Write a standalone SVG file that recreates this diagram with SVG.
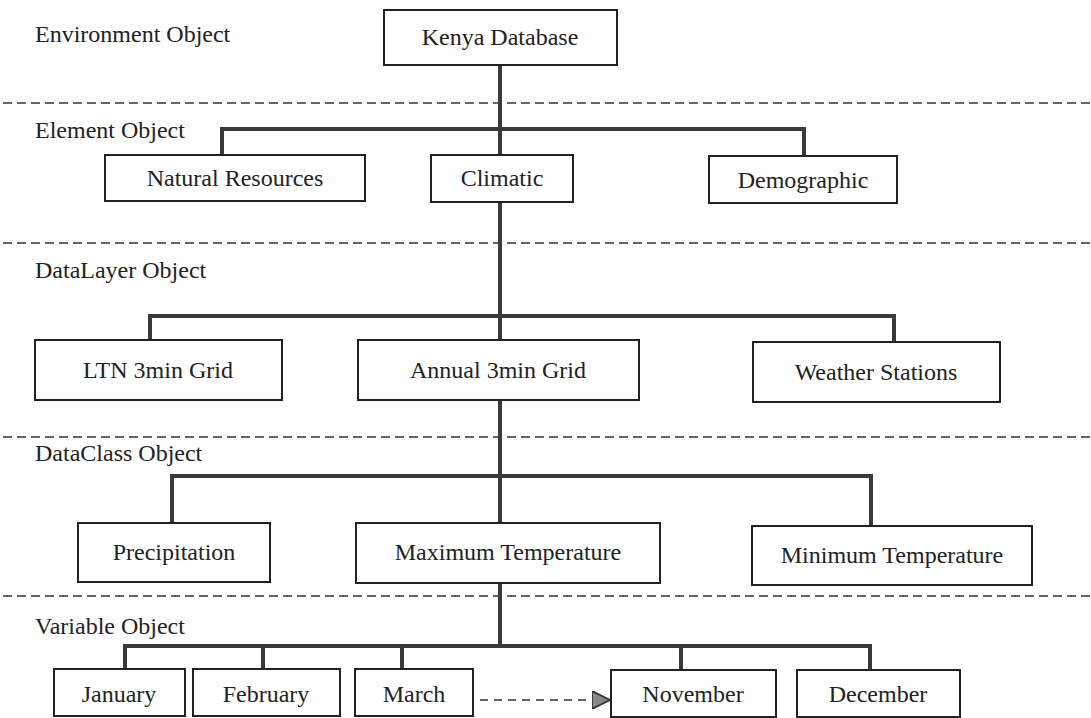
<svg xmlns="http://www.w3.org/2000/svg" width="1091" height="718" viewBox="0 0 1091 718">
<defs>
<style>
text{font-family:"Liberation Serif","Times New Roman",serif;font-size:24px;fill:#222}
.lbl{text-anchor:start}
.box rect{fill:#fff;stroke:#222;stroke-width:2}
.box text{text-anchor:middle}
.sep{stroke:#333;stroke-width:1.6;stroke-dasharray:9 5;fill:none}
.conn{stroke:#3a3a3a;stroke-width:4;fill:none;stroke-linejoin:miter}
</style>
<marker id="arr" viewBox="0 0 10 10" refX="10" refY="5" markerWidth="18" markerHeight="18" markerUnits="userSpaceOnUse" orient="auto">
<path d="M0,0 L10,5 L0,10 Z" fill="#888" stroke="#333" stroke-width="1"/>
</marker>
</defs>
<rect width="1091" height="718" fill="#fff"/>

<g id="layers">
<line class="sep" x1="3" y1="103" x2="1091" y2="103"/>
<line class="sep" x1="3" y1="243" x2="1091" y2="243"/>
<line class="sep" x1="3" y1="437" x2="1091" y2="437"/>
<line class="sep" x1="3" y1="596" x2="1091" y2="596"/>
<text class="lbl" x="35" y="42">Environment Object</text>
<text class="lbl" x="35" y="138">Element Object</text>
<text class="lbl" x="35" y="278">DataLayer Object</text>
<text class="lbl" x="35" y="461">DataClass Object</text>
<text class="lbl" x="35" y="634">Variable Object</text>
</g>

<g id="connectors">
<path class="conn" d="M500,65 V155"/>
<path class="conn" d="M222,155 V129 H804 V155"/>
<path class="conn" d="M500,202 V340"/>
<path class="conn" d="M150,340 V316 H894 V342"/>
<path class="conn" d="M500,400 V523"/>
<path class="conn" d="M172,523 V476 H871 V526"/>
<path class="conn" d="M500,583 V646"/>
<path class="conn" d="M125,669 V646 H870 V669"/>
<path class="conn" d="M263,646 V669"/>
<path class="conn" d="M402,646 V669"/>
<path class="conn" d="M681,646 V669"/>
<line x1="480" y1="700" x2="610" y2="700" stroke="#333" stroke-width="1.6" stroke-dasharray="8 6" marker-end="url(#arr)"/>
</g>

<g id="kenya" class="box"><rect x="384" y="10" width="233" height="55"/><text x="500" y="45">Kenya Database</text></g>
<g id="natural" class="box"><rect x="105" y="155" width="260" height="46"/><text x="235" y="186">Natural Resources</text></g>
<g id="climatic" class="box"><rect x="431" y="155" width="142" height="47"/><text x="502" y="186">Climatic</text></g>
<g id="demographic" class="box"><rect x="709" y="156" width="188" height="47"/><text x="803" y="188">Demographic</text></g>
<g id="ltn" class="box"><rect x="35" y="340" width="247" height="60"/><text x="158" y="378">LTN 3min Grid</text></g>
<g id="annual" class="box"><rect x="358" y="340" width="281" height="60"/><text x="498" y="378">Annual 3min Grid</text></g>
<g id="weather" class="box"><rect x="753" y="342" width="247" height="60"/><text x="876" y="380">Weather Stations</text></g>
<g id="precip" class="box"><rect x="78" y="523" width="192" height="59"/><text x="174" y="560">Precipitation</text></g>
<g id="maxtemp" class="box"><rect x="356" y="523" width="304" height="60"/><text x="508" y="560">Maximum Temperature</text></g>
<g id="mintemp" class="box"><rect x="752" y="526" width="280" height="59"/><text x="892" y="563">Minimum Temperature</text></g>
<g id="january" class="box"><rect x="54" y="669" width="131" height="47"/><text x="119" y="702">January</text></g>
<g id="february" class="box"><rect x="193" y="669" width="147" height="47"/><text x="266" y="702">February</text></g>
<g id="march" class="box"><rect x="355" y="669" width="118" height="47"/><text x="414" y="702">March</text></g>
<g id="november" class="box"><rect x="611" y="670" width="165" height="47"/><text x="693" y="702">November</text></g>
<g id="december" class="box"><rect x="797" y="670" width="163" height="47"/><text x="878" y="702">December</text></g>
</svg>
